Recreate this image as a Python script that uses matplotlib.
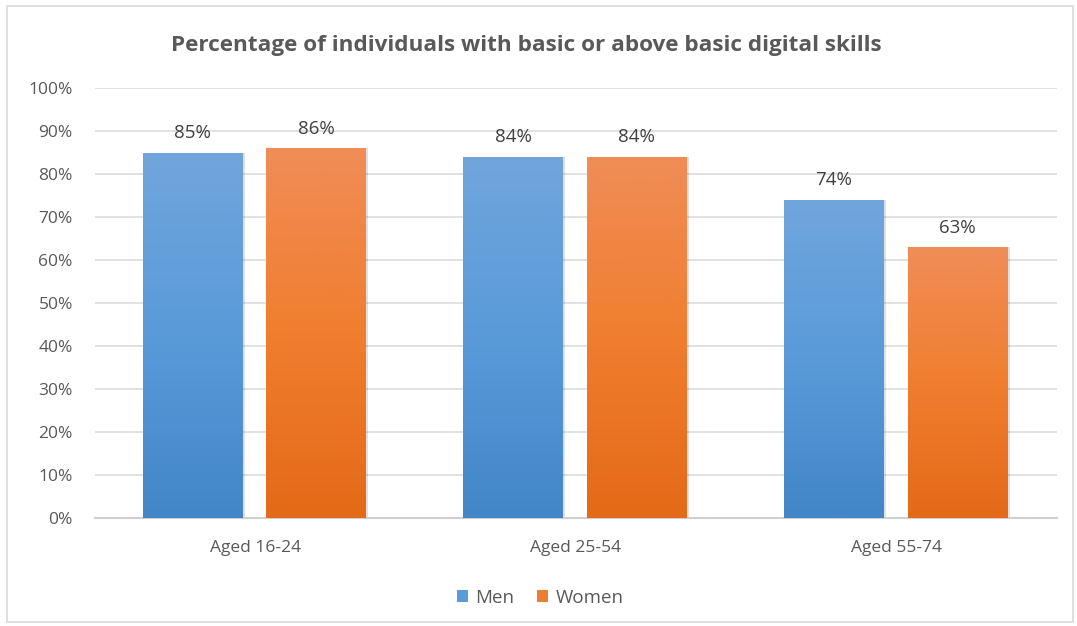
import numpy as np
import matplotlib.pyplot as plt
from matplotlib.patches import Rectangle
from matplotlib.colors import LinearSegmentedColormap

categories = ['Aged 16-24', 'Aged 25-54', 'Aged 55-74']
men = [85, 84, 74]
women = [86, 84, 63]
title = 'Percentage of individuals with basic or above basic digital skills'

plt.rcParams['font.family'] = ['Open Sans', 'DejaVu Sans']
grey = '#595959'

fig = plt.figure(figsize=(10.77, 6.26), dpi=100)
fig.patches.append(Rectangle((7 / 1077, 4 / 626), 1066 / 1077, 616 / 626,
                             transform=fig.transFigure, fill=False,
                             edgecolor='#D9D9D9', linewidth=1.2))
ax = fig.add_axes([95 / 1077, 108 / 626, 962 / 1077, 430 / 626])

blue_cm = LinearSegmentedColormap.from_list('b', ['#4286C8', '#5A9AD9', '#70A6DC'])
orange_cm = LinearSegmentedColormap.from_list('o', ['#E36A17', '#F07E2E', '#F08D57'])
grad = np.linspace(0, 1, 256).reshape(-1, 1)

x = np.arange(len(categories))
w = 0.31

for vals, cm, off in [(men, blue_cm, -0.196), (women, orange_cm, 0.189)]:
    for xi, v in zip(x, vals):
        left = xi + off - w / 2
        # soft shadow
        ax.add_patch(Rectangle((left + 0.008, 0), w, v, facecolor='#000000',
                               alpha=0.12, edgecolor='none', zorder=2))
        im = ax.imshow(grad, extent=(left, left + w, 0, v), origin='lower',
                       cmap=cm, aspect='auto', zorder=3)
        rect = Rectangle((left, 0), w, v, facecolor='none', edgecolor='none')
        ax.add_patch(rect)
        im.set_clip_path(rect)
        ax.text(xi + off, v + 2.4, f'{v}%', ha='center', va='bottom',
                fontsize=13.5, color='#404040')

ax.set_xlim(-0.5, 2.5)
ax.set_ylim(0, 100)
ax.set_yticks(np.arange(0, 101, 10))
ax.set_yticklabels([f'{t}%' for t in range(0, 101, 10)])
ax.set_xticks(x)
ax.set_xticklabels(categories)
ax.tick_params(axis='both', length=0, labelsize=12.5, labelcolor=grey)
ax.tick_params(axis='y', pad=16)
ax.tick_params(axis='x', pad=16)
ax.grid(axis='y', color='#D9D9D9', linewidth=1.1, zorder=0)
ax.set_axisbelow(True)
for s in ['top', 'right', 'left']:
    ax.spines[s].set_visible(False)
ax.spines['bottom'].set_color('#D0D0D0')
ax.spines['bottom'].set_linewidth(1.5)

fig.text(526 / 1077, 1 - 45 / 626, title, ha='center', va='center',
         fontsize=16.2, fontweight='bold', color=grey)

handles = [Rectangle((0, 0), 1, 1, facecolor='#5B9BD5'),
           Rectangle((0, 0), 1, 1, facecolor='#ED7D31')]
fig.legend(handles, ['Men', 'Women'], loc='center', bbox_to_anchor=(540 / 1077, 1 - 598 / 626),
           ncol=2, frameon=False, fontsize=13.5, labelcolor=grey,
           handlelength=0.6, handleheight=0.6, handletextpad=0.4, columnspacing=1.2)

fig.savefig('out.png', dpi=100)
